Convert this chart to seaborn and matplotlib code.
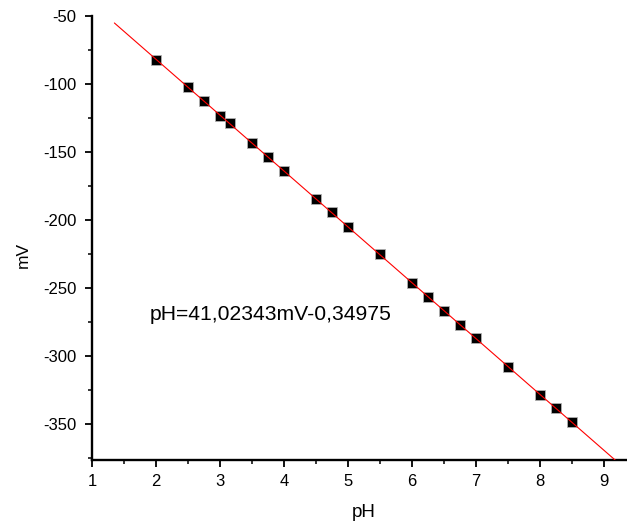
import numpy as np
import pandas as pd
import seaborn as sns
import matplotlib.pyplot as plt
from matplotlib.ticker import MultipleLocator

sns.set_theme(style="ticks")
plt.rcParams['font.family'] = ['Liberation Sans', 'DejaVu Sans']
plt.rcParams['axes.unicode_minus'] = False
plt.rcParams['text.color'] = 'black'
plt.rcParams['axes.labelcolor'] = 'black'
plt.rcParams['xtick.color'] = 'black'
plt.rcParams['ytick.color'] = 'black'

# calibration points
ph = [2.0, 2.5, 2.75, 3.0, 3.15, 3.5, 3.75, 4.0, 4.5, 4.75, 5.0,
      5.5, 6.0, 6.25, 6.5, 6.75, 7.0, 7.5, 8.0, 8.25, 8.5]
mv = [-82.0, -102.0, -112.7, -123.3, -128.7, -143.2, -154.0, -164.3, -184.6, -194.4, -204.9,
      -225.3, -246.3, -256.8, -267.1, -276.9, -286.9, -308.0, -328.5, -338.3, -348.6]
fit_range = [1.35, 9.3]
equation = "pH=41,02343mV-0,34975"

df = pd.DataFrame({"pH": ph, "mV": mv})
slope, intercept = np.polyfit(df["pH"], df["mV"], 1)
fx = np.array(fit_range)
fit = pd.DataFrame({"pH": fx, "mV": slope * fx + intercept})

fig = plt.figure(figsize=(6.27, 5.26), dpi=100)
ax = fig.add_axes([0.1467, 0.1255, 0.8533, 0.8441])

sns.scatterplot(data=df, x="pH", y="mV", marker="s", s=42, color="black",
                edgecolor="#b0b0b0", linewidth=0.6, ax=ax, zorder=2)
sns.lineplot(data=fit, x="pH", y="mV", color="red", linewidth=0.8, ax=ax, zorder=3)

ax.set_xlim(1, 9.36)
ax.set_ylim(-376.5, -50)
ax.xaxis.set_major_locator(MultipleLocator(1))
ax.xaxis.set_minor_locator(MultipleLocator(0.5))
ax.yaxis.set_major_locator(MultipleLocator(50))
ax.yaxis.set_minor_locator(MultipleLocator(25))
ax.tick_params(which="major", direction="out", length=5, width=1.3, labelsize=12)
ax.tick_params(which="minor", direction="out", length=3, width=1.1)
ax.tick_params(axis="x", which="major", pad=5)
ax.tick_params(axis="y", which="major", pad=6)

for side in ["top", "right"]:
    ax.spines[side].set_visible(False)
for side in ["left", "bottom"]:
    ax.spines[side].set_linewidth(1.7)
    ax.spines[side].set_color("black")

ax.set_xlabel("pH", fontsize=13.5)
ax.set_ylabel("mV", fontsize=12.5)
ax.xaxis.set_label_coords(0.508, -0.119)
ax.xaxis.label.set_verticalalignment("center")
ax.yaxis.set_label_coords(-0.129, 0.462)
ax.yaxis.label.set_verticalalignment("center")
ax.text(1.9, -269.6, equation, fontsize=15.2, va="center", ha="left")

fig.savefig("out.png", dpi=100)
plt.close(fig)
